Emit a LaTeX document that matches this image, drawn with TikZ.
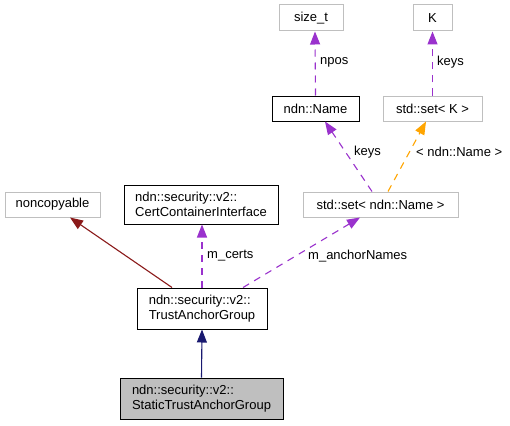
\documentclass[tikz,border=0pt]{standalone}
\usepackage{fontspec}
\setmainfont{Liberation Sans}
\usetikzlibrary{arrows.meta}
\definecolor{edgepurple}{HTML}{9A32CD}
\definecolor{edgeorange}{HTML}{FFA500}
\definecolor{edgered}{HTML}{8B1A1A}
\definecolor{edgenavy}{HTML}{191970}
\definecolor{boxgray}{HTML}{BFBFBF}
\tikzset{
  base/.style={rectangle, inner sep=0pt, font=\fontsize{13}{15}\selectfont, align=left},
  graybox/.style={base, draw=boxgray, line width=1pt},
  blackbox/.style={base, draw=black, line width=1pt},
  curbox/.style={base, draw=black, fill=boxgray, line width=1pt},
  usage/.style={draw=edgepurple, line width=1.1pt, dash pattern=on 7pt off 6pt, -{Triangle[length=13pt,width=10pt]}},
  templ/.style={draw=edgeorange, line width=1.1pt, dash pattern=on 7pt off 6pt, -{Triangle[length=13pt,width=10pt,fill=edgeorange]}},
  inherit/.style={line width=1.1pt, -{Triangle[length=13pt,width=10pt]}},
  lbl/.style={anchor=west, inner sep=0pt, font=\fontsize{13}{15}\selectfont}
}
\begin{document}
\begin{tikzpicture}[x=1pt,y=-1pt]
\useasboundingbox[fill=white] (0,0) rectangle (510,425);
\node[graybox, minimum width=64pt, minimum height=26pt] (size) at (311,18) {size\_t};
\node[graybox, minimum width=39pt, minimum height=26pt] (K) at (432.5,18) {K};
\node[blackbox, minimum width=87pt, minimum height=25pt] (name) at (315.5,108.5) {ndn::Name};
\node[graybox, minimum width=99pt, minimum height=25pt] (setK) at (432.5,108.5) {std::set\textless{} K \textgreater};
\node[graybox, minimum width=155pt, minimum height=25pt] (setName) at (380.5,204.5) {std::set\textless{} ndn::Name \textgreater};
\node[graybox, minimum width=95pt, minimum height=25pt] (noncopy) at (52.5,204.5) {noncopyable};
\node[blackbox, minimum width=154pt, minimum height=39pt] (cert) at (201,204.5) {ndn::security::v2::\\CertContainerInterface};
\node[blackbox, minimum width=130pt, minimum height=41pt] (tag) at (202,308.5) {ndn::security::v2::\\TrustAnchorGroup};
\node[curbox, minimum width=163pt, minimum height=41pt] (stag) at (201.5,398.5) {ndn::security::v2::\\StaticTrustAnchorGroup};

\draw[usage] (name.north) -- ([xshift=4pt]size.south);
\draw[usage] (setK.north) -- (K.south);
\draw[usage] ([xshift=-8.5pt]setName.north) -- ([xshift=9.5pt]name.south);
\draw[templ] ([xshift=7.5pt]setName.north) -- ([xshift=-6.5pt]setK.south);
\draw[inherit, edgered] ([xshift=-30pt]tag.north) -- ([xshift=17.5pt]noncopy.south);
\draw[usage] (tag.north) -- ([xshift=1pt]cert.south);
\draw[usage] ([xshift=41pt]tag.north) -- ([xshift=-20.5pt]setName.south);
\draw[inherit, edgenavy] (stag.north) -- (tag.south);

\node[lbl] (l1) at (320,62) {npos};
\node[lbl] (l2) at (437,62) {keys};
\node[lbl] (l3) at (354,152) {keys};
\node[lbl] (l4) at (416,152) {\textless{} ndn::Name \textgreater};
\node[lbl] (l5) at (207,256) {m\_certs};
\node[lbl] (l6) at (308,256) {m\_anchorNames};
\end{tikzpicture}
\end{document}
